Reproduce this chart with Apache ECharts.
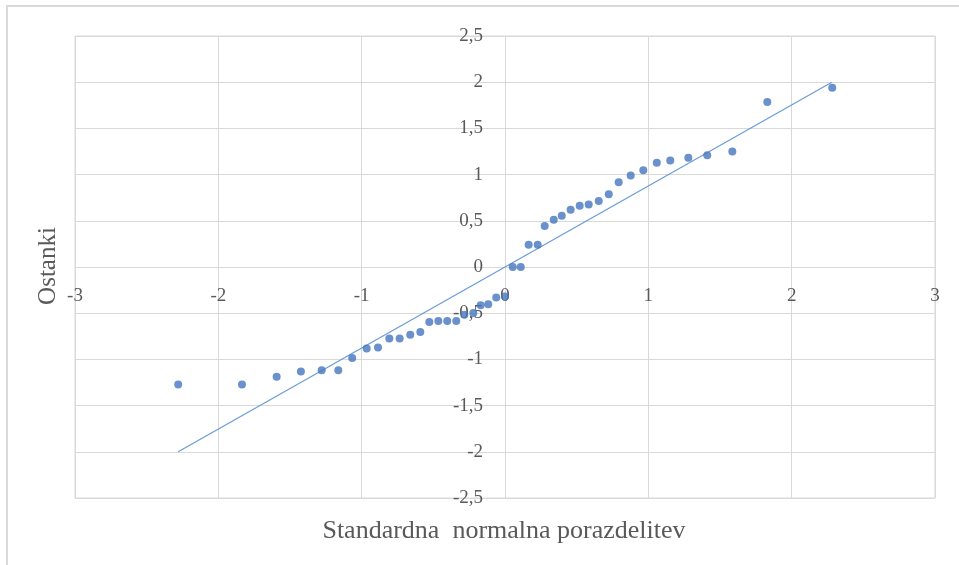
<!DOCTYPE html>
<html>
<head>
<meta charset="utf-8">
<script src="https://cdn.jsdelivr.net/npm/echarts@6/dist/echarts.min.js"></script>
<style>
  html, body { margin: 0; padding: 0; background: #fff; }
  #chart { width: 959px; height: 565px; }
</style>
</head>
<body>
<div id="chart"></div>
<script>
// Theoretical standard normal quantiles (x)
var normalQuantiles = [-2.28, -1.835, -1.593, -1.424, -1.279, -1.163, -1.066, -0.965, -0.886, -0.807,
  -0.735, -0.661, -0.591, -0.528, -0.465, -0.403, -0.340, -0.284, -0.221, -0.170,
  -0.117, -0.061, 0.0, 0.054, 0.110, 0.165, 0.228, 0.277, 0.340, 0.396,
  0.458, 0.521, 0.584, 0.654, 0.724, 0.793, 0.877, 0.965, 1.059, 1.153,
  1.279, 1.411, 1.586, 1.830, 2.283];
// Residuals (y)
var residuals = [-1.272, -1.272, -1.189, -1.132, -1.117, -1.117, -0.984, -0.883, -0.872, -0.775,
  -0.775, -0.732, -0.703, -0.594, -0.584, -0.584, -0.584, -0.517, -0.498, -0.413,
  -0.402, -0.331, -0.320, 0.0, 0.0, 0.241, 0.241, 0.444, 0.512, 0.555,
  0.619, 0.662, 0.676, 0.715, 0.786, 0.918, 0.989, 1.046, 1.129, 1.153,
  1.182, 1.210, 1.250, 1.786, 1.939];
// Reference line endpoints
var refLineX = [-2.28, 2.28];
var refLineY = [-2.0, 2.0];
var xTitle = 'Standardna  normalna porazdelitev';
var yTitle = 'Ostanki';

var points = normalQuantiles.map(function (x, i) { return [x, residuals[i]]; });
var linePts = refLineX.map(function (x, i) { return [x, refLineY[i]]; });

var fmt = function (v) { return String(v).replace('.', ','); };
var FONT = 'Liberation Serif';
var GRID = '#d9d9d9';
var TXT = '#595959';

var W = 959, H = 565;
var G = { left: 75, right: 24, top: 36, bottom: 67 };
var xMin = -3, xMax = 3, yMin = -2.5, yMax = 2.5;
var plotW = W - G.left - G.right, plotH = H - G.top - G.bottom;
// move axis lines / labels to cross at zero (like Excel)
var xAxisOffset = -plotH * (0 - yMin) / (yMax - yMin);
var yAxisOffset = -plotW * (0 - xMin) / (xMax - xMin);

var chart = echarts.init(document.getElementById('chart'), null, { renderer: 'canvas' });
chart.setOption({
  backgroundColor: '#ffffff',
  animation: false,
  graphic: [{
    type: 'rect',
    shape: { x: 7, y: 6, width: 1000, height: 600 },
    style: { fill: 'none', stroke: '#d9d9d9', lineWidth: 2 },
    silent: true, z: -1
  }, {
    type: 'text',
    x: 504, y: 531,
    style: { text: xTitle, fill: TXT, font: '26px "Liberation Serif"', align: 'center', verticalAlign: 'middle' }
  }, {
    type: 'text',
    x: 48, y: 266, rotation: Math.PI / 2,
    style: { text: yTitle, fill: TXT, font: '25px "Liberation Serif"', align: 'center', verticalAlign: 'middle' }
  }],
  grid: { left: G.left, right: G.right, top: G.top, bottom: G.bottom, containLabel: false, outerBoundsMode: 'none',
    show: true, borderColor: GRID, borderWidth: 1 },
  xAxis: {
    type: 'value', min: xMin, max: xMax, interval: 1,
    position: 'bottom', offset: xAxisOffset,
    axisLine: { onZero: false, lineStyle: { color: GRID, width: 1 } },
    axisTick: { show: false },
    splitLine: { show: true, lineStyle: { color: GRID, width: 1 } },
    axisLabel: { formatter: fmt, color: TXT, fontFamily: FONT, fontSize: 19, margin: 20 }
  },
  yAxis: {
    type: 'value', min: yMin, max: yMax, interval: 0.5,
    position: 'left', offset: yAxisOffset,
    axisLine: { onZero: false, lineStyle: { color: GRID, width: 1 } },
    axisTick: { show: false },
    splitLine: { show: true, lineStyle: { color: GRID, width: 1 } },
    axisLabel: { formatter: fmt, color: TXT, fontFamily: FONT, fontSize: 19, margin: 22 }
  },
  series: [{
    type: 'line',
    data: linePts,
    showSymbol: false,
    lineStyle: { color: '#6a9bd6', width: 1.2 },
    z: 2
  }, {
    type: 'scatter',
    data: points,
    symbol: 'circle',
    symbolSize: 8,
    itemStyle: { color: '#4676bf' },
    z: 3
  }]
});
</script>
</body>
</html>
